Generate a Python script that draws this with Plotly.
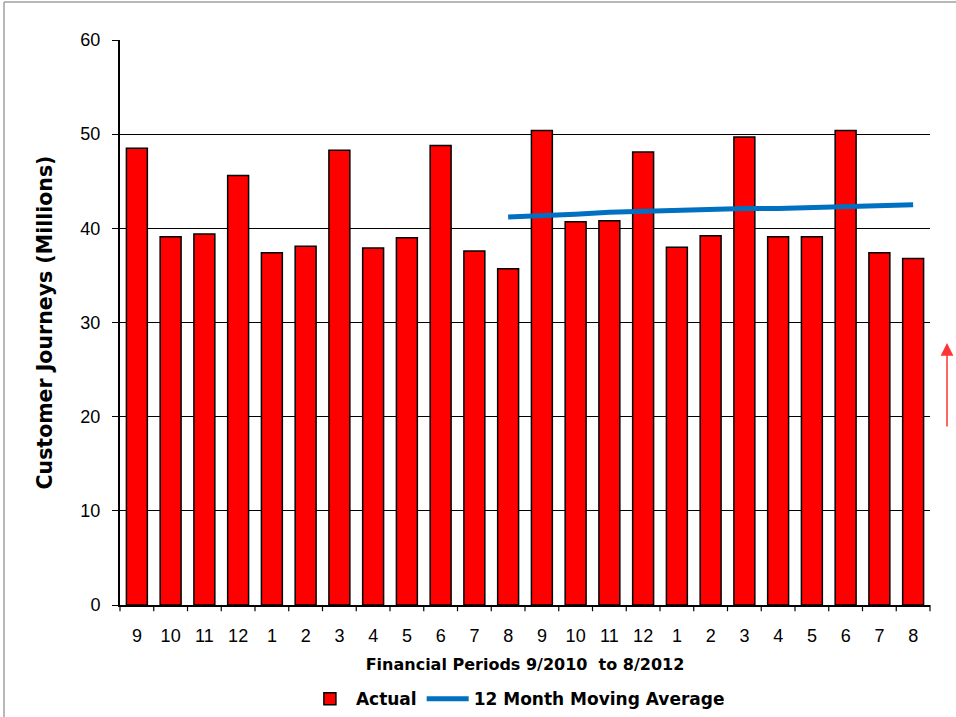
import plotly.graph_objects as go

# Financial periods 9/2010 .. 8/2012
periods = ["9", "10", "11", "12", "1", "2", "3", "4", "5", "6", "7", "8",
           "9", "10", "11", "12", "1", "2", "3", "4", "5", "6", "7", "8"]

# Customer journeys per period (millions)
actual = [48.5, 39.1, 39.4, 45.6, 37.4, 38.1, 48.3, 37.9, 39.0, 48.8, 37.6, 35.7,
          50.4, 40.7, 40.8, 48.1, 38.0, 39.2, 49.7, 39.1, 39.1, 50.4, 37.4, 36.8]

# 12 month moving average, available from the 12th period onward
moving_avg = [None] * 11 + [41.2, 41.3, 41.5, 41.7, 41.8, 42.0, 42.0,
                            42.1, 42.1, 42.2, 42.3, 42.3, 42.5]

y_ticks = [0, 10, 20, 30, 40, 50, 60]

x_idx = list(range(len(periods)))
boundaries = [i - 0.5 for i in range(len(periods) + 1)]
x_range = [boundaries[0], boundaries[-1]]

tick_font = "Liberation Sans, Arial, sans-serif"
title_font = "DejaVu Sans, Verdana, sans-serif"

fig = go.Figure()
fig.add_trace(go.Bar(
    x=x_idx, y=actual, name="Actual",
    marker=dict(color="#ff0000", line=dict(color="#000000", width=1.5)),
))
fig.add_trace(go.Scatter(
    x=x_idx, y=moving_avg, name="12 Month Moving Average",
    mode="lines", line=dict(color="#0070c0", width=5), connectgaps=False,
))

fig.update_layout(
    width=956, height=717,
    margin=dict(l=120, r=26, t=40, b=112),
    paper_bgcolor="white", plot_bgcolor="white",
    font=dict(family=tick_font, size=18, color="#000000"),
    bargap=0.38,
    showlegend=True,
    legend=dict(orientation="h", x=0.49, xanchor="center",
                yref="container", y=0.025, yanchor="middle",
                font=dict(size=17, family=title_font, weight="bold"),
                itemwidth=42, tracegroupgap=0),
    xaxis=dict(
        tickmode="array", tickvals=x_idx, ticktext=periods,
        range=x_range,
        showgrid=False, showline=True, linecolor="#000000", linewidth=2,
        ticks="", tickfont=dict(size=18, family=tick_font),
        ticklabelstandoff=13,
        automargin=False,
        title=dict(text="Financial Periods 9/2010  to 8/2012",
                   font=dict(size=16, family=title_font, weight="bold"),
                   standoff=14),
        zeroline=False,
    ),
    yaxis=dict(
        range=[0, 60], tickvals=y_ticks,
        showgrid=True, gridcolor="#000000", gridwidth=1.3,
        showline=True, linecolor="#000000", linewidth=2,
        ticks="outside", ticklen=6, tickcolor="#000000",
        tickfont=dict(size=18, family=tick_font),
        ticklabelstandoff=8,
        automargin=False,
        title=dict(text="Customer Journeys (Millions)",
                   font=dict(size=20.5, family=title_font, weight="bold"),
                   standoff=22),
        zeroline=False,
    ),
)

# Tick marks on the boundaries between periods (paper coordinates, unclipped)
span = x_range[1] - x_range[0]
for b in boundaries:
    xp = (b - x_range[0]) / span
    fig.add_shape(type="line", xref="paper", yref="paper",
                  x0=xp, x1=xp, y0=0, y1=-0.011,
                  line=dict(color="#000000", width=1.2))

# Page frame (left and top edges)
fig.add_shape(type="line", xref="paper", yref="paper",
              x0=-0.1432, x1=-0.1432, y0=-0.2, y1=1.0673,
              line=dict(color="#a0a0a0", width=1.5))
fig.add_shape(type="line", xref="paper", yref="paper",
              x0=-0.1432, x1=1.05, y0=1.0673, y1=1.0673,
              line=dict(color="#a0a0a0", width=1.5))

# Upward trend arrow beside the plot
fig.add_annotation(xref="paper", yref="paper", x=1.021, y=0.4637,
                   ax=0, ay=85, axref="pixel", ayref="pixel",
                   showarrow=True, arrowhead=2, arrowsize=1.7, arrowwidth=1.5,
                   arrowcolor="#ff3333", text="")

fig.write_html("out.html")
